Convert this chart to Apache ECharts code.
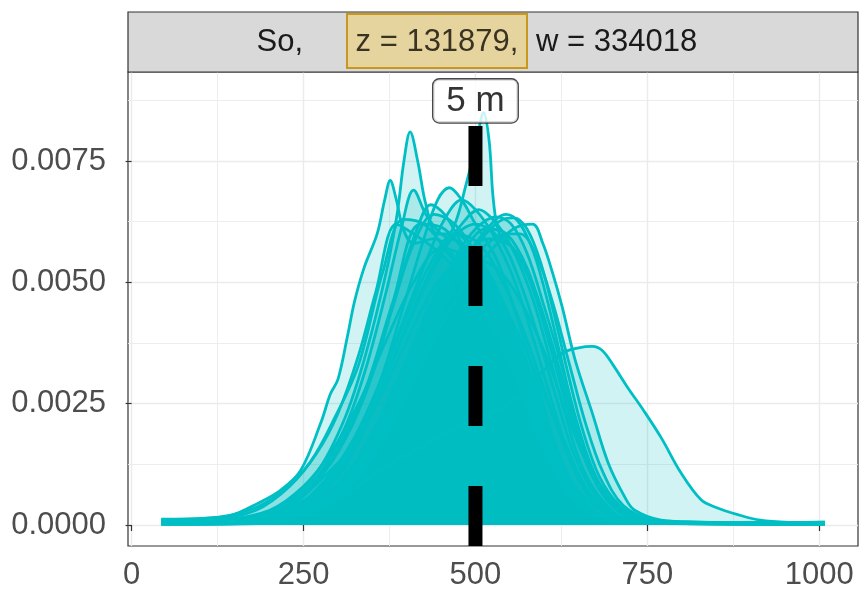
<!DOCTYPE html>
<html>
<head>
<meta charset="utf-8">
<script src="https://cdn.jsdelivr.net/npm/echarts@6/dist/echarts.min.js"></script>
<style>
  html, body { margin: 0; padding: 0; background: #ffffff; }
  #chart { width: 864px; height: 591px; }
</style>
</head>
<body>
<div id="chart"></div>
<script>
// Density curves, one per sample: [value, density]
const curveA = [[43,0.0001],[100,0.00013],[145,0.0002],[184,0.00045],[217,0.00072],[246,0.00113],[275,0.0021],[289,0.0027],[300,0.0030],[314,0.0039],[324,0.0046],[338,0.0053],[357,0.0060],[368,0.0067],[376,0.0071],[385,0.0067],[395,0.0061],[410,0.0058],[440,0.0059],[470,0.0055],[500,0.0048],[530,0.0040],[560,0.0030],[590,0.0019],[620,0.0010],[650,0.0004],[700,0.0001],[800,0.00003],[1008,0.00002]];
const curveB = [[43,0.00005],[150,0.0001],[220,0.0004],[270,0.0011],[310,0.0022],[340,0.0035],[370,0.0052],[386,0.0064],[396,0.0075],[405,0.0081],[416,0.0075],[428,0.0066],[445,0.0060],[470,0.0060],[500,0.0056],[530,0.0049],[560,0.0039],[590,0.0027],[620,0.0015],[650,0.0007],[700,0.0002],[800,0.00004],[1008,0.00002]];
const curveC = [[43,0.00003],[150,0.00005],[250,0.0005],[300,0.0012],[350,0.0025],[400,0.0041],[440,0.0054],[470,0.0062],[486,0.0070],[500,0.0078],[512,0.0085],[520,0.0079],[526,0.0067],[535,0.0060],[555,0.0057],[580,0.0050],[610,0.0036],[640,0.0021],[670,0.0010],[700,0.0004],[750,0.0001],[1008,0.00003]];
const curveD = [[43,0.00007],[150,0.0001],[220,0.0004],[270,0.0010],[310,0.0020],[340,0.0032],[370,0.0048],[392,0.0061],[410,0.0069],[428,0.0064],[450,0.0060],[480,0.0058],[510,0.0054],[540,0.0046],[570,0.0034],[600,0.0021],[630,0.0011],[660,0.0004],[700,0.0001],[800,0.00003],[1008,0.00002]];
const curveE = [[43,0.00004],[150,0.00005],[230,0.0003],[280,0.0008],[320,0.0016],[360,0.0029],[395,0.0045],[425,0.0059],[445,0.0067],[462,0.00695],[480,0.0067],[500,0.0062],[530,0.0055],[560,0.0043],[590,0.0029],[620,0.0015],[650,0.0006],[690,0.00015],[760,0.00004],[1008,0.00004]];
const curveF = [[43,0.00005],[150,0.00006],[230,0.0003],[280,0.0008],[320,0.0016],[360,0.0029],[400,0.0044],[430,0.0055],[455,0.0063],[480,0.0067],[500,0.0065],[525,0.0060],[555,0.0051],[585,0.0038],[610,0.0026],[640,0.0013],[670,0.0005],[710,0.00012],[780,0.00004],[1008,0.00003]];
const curveG = [[43,0.00004],[160,0.00005],[250,0.0004],[300,0.0010],[340,0.0020],[380,0.0034],[420,0.0047],[455,0.0057],[480,0.0062],[505,0.0065],[525,0.0063],[550,0.0058],[580,0.0048],[605,0.0036],[630,0.0023],[655,0.0012],[685,0.0005],[720,0.00012],[800,0.00004],[1008,0.00005]];
const curveH = [[43,0.00003],[170,0.00004],[260,0.0004],[310,0.0010],[350,0.0019],[390,0.0031],[430,0.0044],[470,0.0055],[500,0.0061],[530,0.00635],[552,0.0062],[575,0.0056],[600,0.0045],[625,0.0033],[650,0.0020],[675,0.0010],[705,0.0004],[740,0.0001],[820,0.00003],[1008,0.00004]];
const curveI = [[43,0.00002],[180,0.00004],[270,0.0004],[320,0.0010],[360,0.0019],[400,0.0030],[440,0.0043],[480,0.0054],[515,0.0060],[540,0.0063],[556,0.00633],[575,0.0061],[595,0.0054],[615,0.0043],[635,0.0031],[655,0.0020],[680,0.0010],[710,0.0004],[750,0.0001],[830,0.00003],[1008,0.00006]];
const curveJ = [[43,0.00002],[190,0.00004],[280,0.0005],[330,0.0012],[370,0.0020],[410,0.0030],[450,0.0041],[490,0.0051],[525,0.0057],[555,0.0061],[583,0.0062],[598,0.0058],[612,0.0052],[626,0.0045],[645,0.0034],[670,0.0023],[693,0.00128],[717,0.00058],[731,0.00031],[770,0.0001],[818,0.00006],[1008,0.00004]];
const curveK = [[43,0.00002],[150,0.00003],[220,0.0001],[270,0.0003],[320,0.0007],[370,0.0012],[420,0.0016],[470,0.0020],[520,0.0023],[550,0.0025],[577,0.00284],[600,0.0032],[626,0.00354],[650,0.00365],[670,0.00368],[684,0.0036],[700,0.0033],[721,0.00284],[745,0.00235],[770,0.0018],[799,0.00107],[828,0.00052],[850,0.00036],[880,0.00022],[914,0.0001],[962,0.00005],[1008,0.00004]];
const curveL = [[43,0.00009],[120,0.00013],[180,0.0003],[230,0.0008],[270,0.0015],[300,0.0023],[330,0.0035],[355,0.0048],[385,0.0062],[410,0.0060],[440,0.0057],[470,0.0053],[500,0.0048],[530,0.0040],[560,0.0030],[590,0.0019],[620,0.0010],[650,0.0004],[700,0.0001],[800,0.00003],[1008,0.00002]];
const curveM = [[43,0.00006],[140,0.00007],[210,0.0003],[260,0.0008],[300,0.0015],[340,0.0027],[380,0.0045],[410,0.0058],[440,0.0064],[470,0.0062],[500,0.0056],[530,0.0047],[560,0.0036],[590,0.0024],[620,0.0013],[650,0.0005],[690,0.00015],[760,0.00004],[1008,0.00002]];
const curveN = [[43,0.00005],[150,0.00006],[230,0.0003],[280,0.0009],[320,0.0017],[360,0.0029],[400,0.0043],[435,0.0054],[470,0.0060],[505,0.0058],[540,0.0050],[570,0.0040],[600,0.0028],[630,0.0016],[660,0.0007],[700,0.0002],[770,0.00004],[1008,0.00003]];
const curveO = [[43,0.00003],[170,0.00004],[260,0.0004],[310,0.0010],[355,0.0020],[400,0.0034],[440,0.0046],[480,0.0055],[520,0.0059],[555,0.0057],[585,0.0049],[610,0.0038],[635,0.0026],[660,0.0015],[690,0.0006],[730,0.00015],[800,0.00004],[1008,0.00005]];
const curveP = [[43,0.00008],[130,0.00011],[200,0.0003],[250,0.0008],[290,0.0015],[330,0.0025],[370,0.0038],[410,0.0050],[450,0.0057],[490,0.0055],[530,0.0048],[570,0.0037],[600,0.0027],[630,0.0017],[660,0.0008],[700,0.0002],[780,0.00004],[1008,0.00002]];
const curveQ = [[43,0.00004],[160,0.00005],[250,0.0004],[300,0.0011],[340,0.0021],[380,0.0034],[420,0.0048],[460,0.0058],[500,0.0062],[535,0.0059],[565,0.0050],[595,0.0037],[620,0.0025],[645,0.0014],[675,0.0006],[710,0.00015],[790,0.00004],[1008,0.00004]];
const curveR = [[43,0.00007],[140,0.00008],[210,0.0003],[260,0.0008],[300,0.0016],[340,0.0028],[380,0.0046],[420,0.0062],[455,0.0061],[490,0.0055],[525,0.0045],[560,0.0033],[590,0.0022],[620,0.0012],[650,0.0005],[690,0.00012],[770,0.00003],[1008,0.00002]];
const curveS = [[43,0.00002],[190,0.00003],[290,0.0005],[340,0.0012],[385,0.0023],[430,0.0037],[470,0.0049],[510,0.0057],[545,0.0060],[565,0.0060],[590,0.0055],[612,0.0046],[635,0.0034],[660,0.0021],[685,0.0011],[715,0.0004],[760,0.0001],[840,0.00003],[1008,0.00006]];
const curveT = [[43,0.00005],[150,0.00007],[230,0.0004],[280,0.0010],[320,0.0016],[360,0.0026],[400,0.0038],[445,0.0050],[490,0.0055],[530,0.0053],[570,0.0045],[605,0.0034],[635,0.0022],[665,0.0012],[700,0.0005],[740,0.00015],[820,0.00004],[1008,0.00003]];
const curveU = [[43,0.00012],[110,0.00014],[170,0.0003],[220,0.0007],[260,0.0013],[295,0.0022],[330,0.0033],[365,0.0052],[395,0.0063],[425,0.0062],[455,0.0057],[490,0.0050],[525,0.0041],[560,0.0030],[595,0.0019],[625,0.0010],[655,0.0004],[700,0.0001],[800,0.00003],[1008,0.00002]];
const curveV = [[43,0.00002],[180,0.00003],[280,0.0005],[330,0.0011],[375,0.0022],[420,0.0036],[460,0.0049],[500,0.0058],[530,0.0063],[545,0.0064],[565,0.0062],[585,0.0056],[605,0.0046],[625,0.0034],[645,0.0022],[670,0.0011],[700,0.0004],[740,0.0001],[820,0.00003],[1008,0.00005]];
const curveW = [[43,0.00006],[140,0.00006],[220,0.0003],[270,0.0009],[310,0.0018],[350,0.0031],[385,0.0048],[415,0.0061],[435,0.0066],[455,0.0064],[480,0.0058],[510,0.0051],[545,0.0041],[575,0.0030],[605,0.0019],[635,0.0009],[665,0.0003],[710,0.00008],[790,0.00003],[1008,0.00002]];
const curveX = [[43,0.00004],[170,0.00005],[265,0.0004],[315,0.0010],[360,0.0021],[405,0.0035],[445,0.0048],[485,0.0057],[515,0.0061],[545,0.0060],[575,0.0053],[600,0.0042],[625,0.0030],[650,0.0018],[678,0.0008],[710,0.00025],[760,0.00006],[1008,0.00004]];

const densityCurves = [curveA, curveL, curveU, curveP, curveR, curveB, curveD, curveM, curveW,
  curveN, curveE, curveF, curveT, curveQ, curveG, curveX, curveO, curveH, curveV, curveI,
  curveS, curveJ, curveC, curveK];

// Axis ticks
const xMajorTicks = [0, 250, 500, 750, 1000];
const xMinorTicks = [125, 375, 625, 875];
const yMajorTicks = [0, 0.0025, 0.005, 0.0075];
const yMinorTicks = [0.00125, 0.00375, 0.00625, 0.00875];
const xRange = [-5.25, 1056.25];
const yRange = [-0.000433, 0.009336];

// Reference line and its label
const refLineX = 500;
const refLabelY = 0.00874;
const refLabelText = '5 m';

// Facet strip text
const stripLead = 'So,';
const stripHighlight = 'z = 131879,';
const stripTail = 'w = 334018';

const FONT = 'Liberation Sans, Arial, Helvetica, sans-serif';
const TEAL = '#00BFC4';
const TEXT_SIZE = 31;

const chart = echarts.init(document.getElementById('chart'), null, { renderer: 'canvas' });

const gridLeft = 128, gridRight = 858, gridTop = 72, gridBottom = 546;

const densitySeries = densityCurves.map((pts, i) => ({
  type: 'line',
  name: 'sample ' + (i + 1),
  data: pts,
  smooth: 0.35,
  showSymbol: false,
  symbol: 'none',
  silent: true,
  z: 3,
  lineStyle: { color: TEAL, width: 2.8 },
  areaStyle: { color: TEAL, opacity: 0.18 }
}));

const option = {
  backgroundColor: '#ffffff',
  animation: false,
  textStyle: { fontFamily: FONT },
  grid: {
    left: gridLeft, top: gridTop,
    width: gridRight - gridLeft, height: gridBottom - gridTop,
    show: true, borderColor: '#333333', borderWidth: 1.2, backgroundColor: '#ffffff',
    containLabel: false
  },
  xAxis: [
    {
      type: 'value', min: xRange[0], max: xRange[1],
      position: 'bottom',
      axisLine: { show: false },
      axisTick: { show: true, length: 6, customValues: xMajorTicks, lineStyle: { color: '#333333', width: 1.2 } },
      axisLabel: { customValues: xMajorTicks, fontSize: TEXT_SIZE, color: '#4D4D4D', margin: 14, fontFamily: FONT,
        formatter: v => String(v) },
      splitLine: { show: true, lineStyle: { color: '#EBEBEB', width: 1.4 } }
    },
    {
      type: 'value', min: xRange[0], max: xRange[1],
      position: 'top',
      axisLine: { show: false },
      axisTick: { show: false, customValues: xMinorTicks },
      axisLabel: { show: false, customValues: xMinorTicks },
      splitLine: { show: true, lineStyle: { color: '#EBEBEB', width: 0.9 } }
    }
  ],
  yAxis: [
    {
      type: 'value', min: yRange[0], max: yRange[1],
      position: 'left',
      axisLine: { show: false },
      axisTick: { show: true, length: 6, customValues: yMajorTicks, lineStyle: { color: '#333333', width: 1.2 } },
      axisLabel: { customValues: yMajorTicks, fontSize: TEXT_SIZE, color: '#4D4D4D', margin: 22, fontFamily: FONT,
        formatter: v => v.toFixed(4) },
      splitLine: { show: true, lineStyle: { color: '#EBEBEB', width: 1.4 } }
    },
    {
      type: 'value', min: yRange[0], max: yRange[1],
      position: 'right',
      axisLine: { show: false },
      axisTick: { show: false, customValues: yMinorTicks },
      axisLabel: { show: false, customValues: yMinorTicks },
      splitLine: { show: true, lineStyle: { color: '#EBEBEB', width: 0.9 } }
    }
  ],
  series: densitySeries.concat([
    {
      type: 'line',
      name: 'reference',
      data: [[refLineX, yRange[0]], [refLineX, yRange[1]]],
      showSymbol: false,
      symbol: 'none',
      silent: true,
      z: 5,
      lineStyle: { color: '#000000', width: 14, type: [60, 60], cap: 'butt' }
    },
    {
      type: 'scatter',
      name: 'reference label',
      data: [[refLineX, refLabelY]],
      symbolSize: 0,
      silent: true,
      z: 6,
      label: {
        show: true,
        position: 'inside',
        formatter: refLabelText,
        fontFamily: FONT,
        fontSize: 35,
        color: '#000000',
        backgroundColor: '#ffffff',
        borderColor: '#1a1a1a',
        borderWidth: 1.3,
        borderRadius: 6,
        padding: [5, 13, 3, 13]
      }
    }
  ]),
  graphic: [
    {
      type: 'rect', z: 10,
      shape: { x: gridLeft, y: 12, width: gridRight - gridLeft, height: gridTop - 12 },
      style: { fill: '#D9D9D9', stroke: '#333333', lineWidth: 1.2 }
    },
    {
      type: 'rect', z: 11,
      shape: { x: 347, y: 14, width: 180, height: 54 },
      style: { fill: '#E6D49F', stroke: '#C9971C', lineWidth: 2 }
    },
    {
      type: 'text', z: 12, x: 303, y: 42,
      style: { text: stripLead, font: TEXT_SIZE + 'px ' + FONT, fill: '#1A1A1A', align: 'right', verticalAlign: 'middle' }
    },
    {
      type: 'text', z: 12, x: 437, y: 42,
      style: { text: stripHighlight, font: TEXT_SIZE + 'px ' + FONT, fill: '#3A3322', align: 'center', verticalAlign: 'middle' }
    },
    {
      type: 'text', z: 12, x: 536, y: 42,
      style: { text: stripTail, font: TEXT_SIZE + 'px ' + FONT, fill: '#1A1A1A', align: 'left', verticalAlign: 'middle' }
    }
  ]
};

chart.setOption(option);
</script>
</body>
</html>
